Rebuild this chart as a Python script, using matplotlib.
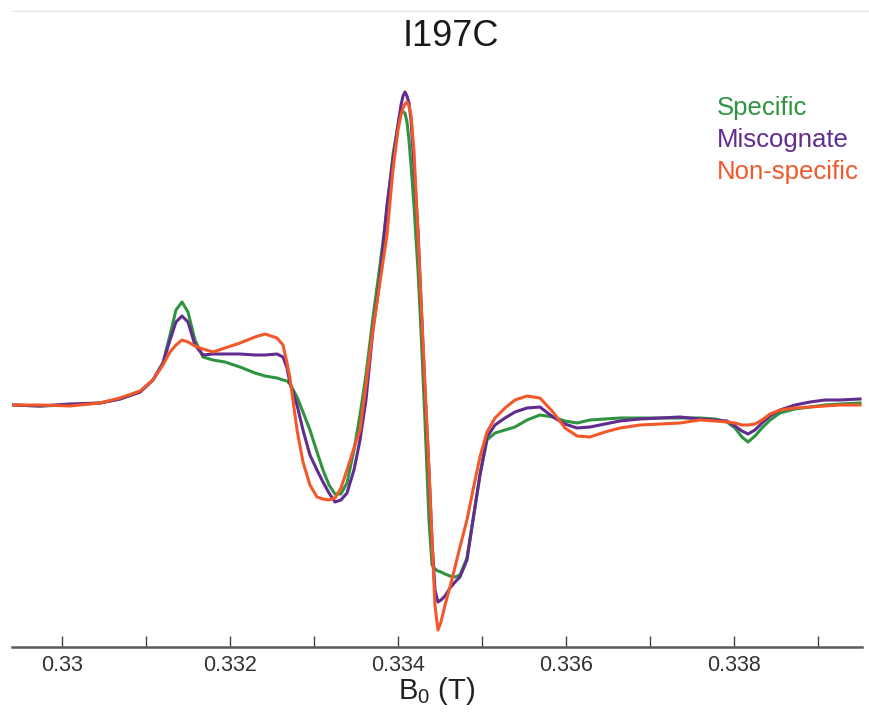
import matplotlib
matplotlib.use("Agg")
import matplotlib.pyplot as plt
from matplotlib.ticker import FixedLocator, FixedFormatter
from matplotlib.lines import Line2D
import numpy as np

plt.rcParams["font.family"] = ["Liberation Sans", "DejaVu Sans"]
plt.rcParams["mathtext.fontset"] = "custom"
plt.rcParams["mathtext.rm"] = "Liberation Sans"
plt.rcParams["mathtext.it"] = "Liberation Sans:italic"

# Magnetic field (mT) sampled along the sweep
field_mT = [
    329.405, 329.738, 330.095, 330.452, 330.690, 330.929, 331.083, 331.202, 331.286, 331.357,
    331.429, 331.500, 331.583, 331.679, 331.798, 331.940, 332.119, 332.298, 332.417, 332.560,
    332.631, 332.679, 332.714, 332.798, 332.869, 332.952, 333.036, 333.107, 333.179, 333.250,
    333.321, 333.393, 333.476, 333.548, 333.619, 333.702, 333.786, 333.869, 333.940, 334.000,
    334.036, 334.060, 334.083, 334.107, 334.131, 334.155, 334.190, 334.238, 334.274, 334.321,
    334.369, 334.405, 334.440, 334.476, 334.512, 334.560, 334.619, 334.679, 334.738, 334.821,
    334.893, 334.976, 335.060, 335.155, 335.274, 335.393, 335.536, 335.690, 335.845, 335.988,
    336.131, 336.286, 336.464, 336.643, 336.881, 337.119, 337.357, 337.595, 337.774, 337.917,
    338.012, 338.095, 338.167, 338.250, 338.333, 338.429, 338.548, 338.726, 338.905, 339.083,
    339.262, 339.500,
]

# First-derivative EPR signal (arbitrary units)
specific = [
    0, -1, 0, 2, 6, 13, 25, 42, 70, 95,
    103, 93, 65, 48, 45, 43, 38, 32, 29, 27,
    25, 24, 21, 8, -7, -25, -47, -65, -80, -89,
    -89, -78, -45, -10, 30, 87, 140, 195, 250, 280,
    292, 293, 292, 283, 265, 240, 200, 135, 75, -15,
    -115, -160, -164, -166, -167, -169, -171, -172, -170, -153,
    -115, -70, -35, -28, -25, -22, -15, -10, -12, -16,
    -18, -15, -14, -13, -13, -13, -13, -13, -14, -17,
    -23, -32, -37, -31, -23, -15, -8, -4, -2, 0,
    1, 2,
]
miscognate = [
    0, -1, 1, 2, 6, 13, 25, 42, 65, 83,
    89, 83, 60, 50, 51, 51, 51, 50, 50, 51,
    48, 37, 22, 0, -25, -50, -65, -77, -88, -97,
    -95, -88, -65, -35, 5, 75, 127, 200, 245, 280,
    300, 309, 313, 309, 302, 285, 240, 175, 105, 15,
    -65, -135, -185, -197, -195, -191, -183, -177, -172, -155,
    -115, -70, -32, -20, -13, -7, -3, -2, -12, -19,
    -23, -22, -19, -16, -14, -13, -12, -14, -15, -16,
    -21, -26, -29, -25, -18, -11, -5, 0, 3, 5,
    5, 6,
]
non_specific = [
    0, 0, -1, 2, 7, 14, 25, 40, 53, 60,
    65, 63, 59, 56, 53, 57, 62, 68, 71, 67,
    60, 42, 27, -25, -57, -80, -92, -94, -95, -93,
    -83, -65, -43, -25, 20, 75, 123, 170, 235, 275,
    290, 297, 301, 303, 299, 290, 255, 170, 105, 20,
    -65, -135, -200, -225, -217, -200, -182, -162, -142, -115,
    -85, -52, -27, -13, -3, 5, 9, 7, -7, -23,
    -31, -32, -27, -23, -20, -19, -18, -15, -16, -17,
    -18, -20, -20, -19, -15, -9, -5, -3, -2, -1,
    0, 0,
]

series_names = ["Specific", "Miscognate", "Non-specific"]
series_colors = ["#2f9440", "#622c8f", "#f2582a"]
tick_values = [0.330, 0.331, 0.332, 0.333, 0.334, 0.335, 0.336, 0.337, 0.338, 0.339]
tick_labels = ["0.33", "", "0.332", "", "0.334", "", "0.336", "", "0.338", ""]

W, H = 870, 721
fig = plt.figure(figsize=(W / 100, H / 100), dpi=100)
fig.patch.set_facecolor("white")

ax = fig.add_axes([12 / W, 74 / H, 850 / W, 587 / H])

field_T = np.array(field_mT) / 1000.0
for vals, col in zip([specific, miscognate, non_specific], series_colors):
    ax.plot(field_T, vals, color=col, lw=2.2, solid_joinstyle="round")

ax.set_xlim(0.329405, 0.339524)
ax.set_ylim(-242, 345)

for side in ("left", "top", "right"):
    ax.spines[side].set_visible(False)
ax.spines["bottom"].set_color("#5a5a5a")
ax.spines["bottom"].set_linewidth(1.8)
ax.set_yticks([])

ax.xaxis.set_major_locator(FixedLocator(tick_values))
ax.xaxis.set_major_formatter(FixedFormatter(tick_labels))
ax.tick_params(axis="x", direction="in", length=8, width=1.0, color="#444444",
               pad=6, labelsize=15.5, labelcolor="#333333")

ax.set_xlabel("B$_0$ (T)", fontsize=21, color="#222222", labelpad=-1)

fig.text(451 / W, 1 - 36 / H, "I197C", ha="center", va="center",
         fontsize=26, color="#1a1a1a")

# thin rule along the top edge
fig.add_artist(Line2D([12 / W, 1.0], [1 - 11 / H, 1 - 11 / H], transform=fig.transFigure,
                      color="#e6e6e6", lw=1.0))

for i, (name, col) in enumerate(zip(series_names, series_colors)):
    fig.text(717 / W, 1 - (108 + 32 * i) / H, name, ha="left", va="center",
             fontsize=18.5, color=col)

fig.savefig("out.png", dpi=100, facecolor="white")
